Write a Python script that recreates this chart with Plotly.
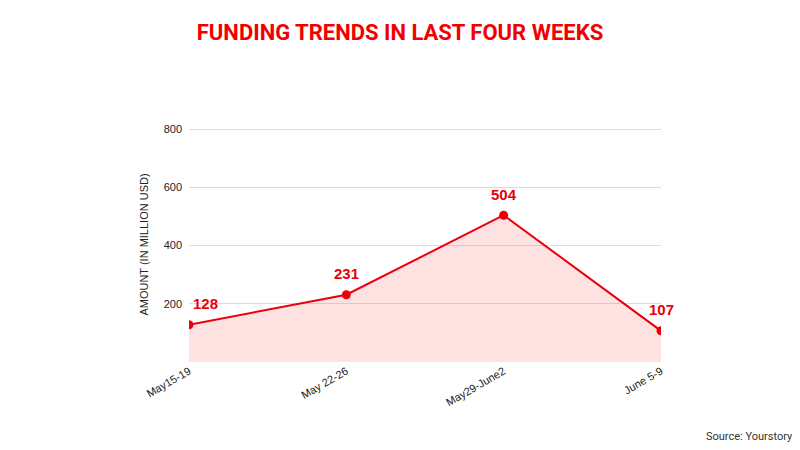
"""Funding trends line chart."""

import plotly.graph_objects as go

WEEKS = ["May15-19", "May 22-26", "May29-June2", "June 5-9"]
AMOUNTS = [128, 231, 504, 107]
LABEL_SHIFT = [16, 0, 0, 0]
Y_TICKS = [200, 400, 600, 800]

RED = "#e8000b"


def main():
    fig = go.Figure()
    fig.add_trace(go.Scatter(
        x=WEEKS, y=AMOUNTS, mode="lines+markers",
        line=dict(color=RED, width=2),
        marker=dict(color=RED, size=9),
        fill="tozeroy", fillcolor="rgba(250,80,80,0.17)",
        hoverinfo="x+y",
    ))

    for week, amount, shift in zip(WEEKS, AMOUNTS, LABEL_SHIFT):
        fig.add_annotation(
            x=week, y=amount, text=f"<b>{amount}</b>", showarrow=False,
            yshift=21, xshift=shift,
            font=dict(family="Liberation Sans, Arial", size=15, color=RED),
        )

    fig.add_annotation(
        text="Source: Yourstory", xref="paper", yref="paper",
        x=1.284, y=-0.316, xanchor="right", yanchor="middle", showarrow=False,
        font=dict(family="Roboto, Arial", size=11, color="#333"),
    )

    # page body has an 8px margin, so everything sits 8px up/left
    fig.update_layout(
        width=800, height=450,
        margin=dict(l=181, r=147, t=119, b=96, autoexpand=False),
        paper_bgcolor="white", plot_bgcolor="white",
        showlegend=False,
        title=dict(
            text="<b>FUNDING TRENDS IN LAST FOUR WEEKS</b>",
            x=0.49, xanchor="center", y=0.947, yanchor="middle",
            font=dict(family="Roboto, Arial", size=22, color="#f20000"),
        ),
    )
    fig.update_xaxes(
        showgrid=False, zeroline=False, showline=False, automargin=False,
        tickangle=-30, ticks="",
        tickfont=dict(family="Liberation Sans, Arial", size=11, color="#222"),
        range=[0, 3],
    )
    fig.update_yaxes(
        range=[0, 807], tickvals=Y_TICKS, automargin=False,
        showgrid=True, gridcolor="#dcdcdc", zeroline=False,
        ticks="", ticklabelstandoff=6,
        tickfont=dict(family="Liberation Sans, Arial", size=11, color="#222"),
        title=dict(text="AMOUNT (IN MILLION USD)", standoff=12,
                   font=dict(family="Liberation Sans, Arial", size=11, color="#222")),
    )

    fig.write_html("out.html")


if __name__ == "__main__":
    main()
